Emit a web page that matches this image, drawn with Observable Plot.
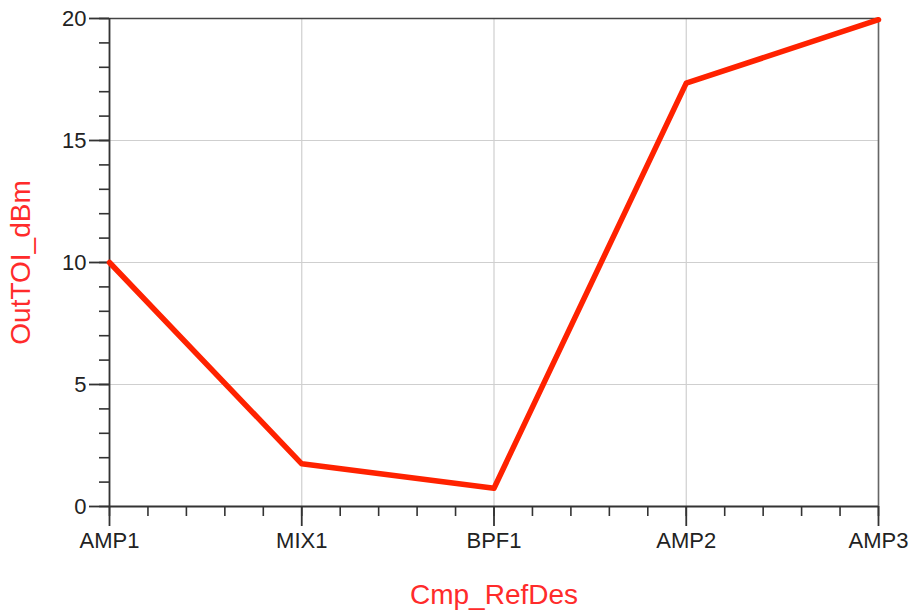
<!DOCTYPE html>
<html>
<head>
<meta charset="utf-8">
<script src="https://cdn.jsdelivr.net/npm/d3@7"></script>
<script src="https://cdn.jsdelivr.net/npm/@observablehq/plot@0.6"></script>
<style>
  html, body { margin: 0; padding: 0; background: #fff; }
  svg { display: block; }
</style>
</head>
<body>
<div id="chart"></div>
<script>
const categories = ["AMP1", "MIX1", "BPF1", "AMP2", "AMP3"];
const outTOI_dBm = [10.0, 1.75, 0.75, 17.35, 19.95];
const yTicks = [0, 5, 10, 15, 20];
const yMinorTicks = d3.range(0, 21, 1);
const xMinorTicks = d3.range(0, 4.001, 0.2);

const data = categories.map((c, i) => ({i, c, v: outTOI_dBm[i]}));

const axisColor = "#333";
const labelColor = "#222";
const titleRed = "#ff2b2b";
const lineRed = "#ff2200";

const chart = Plot.plot({
  width: 911,
  height: 610,
  marginLeft: 109,
  marginRight: 33,
  marginTop: 18,
  marginBottom: 104,
  style: {fontFamily: "'Liberation Sans', Arial, sans-serif", background: "#fff"},
  x: {domain: [0, 4]},
  y: {domain: [0, 20]},
  marks: [
    Plot.gridX(d3.range(categories.length), {stroke: "#cfcfcf", strokeOpacity: 1, strokeWidth: 1.2}),
    Plot.gridY([5, 10, 15], {stroke: "#cfcfcf", strokeOpacity: 1, strokeWidth: 1.2}),
    Plot.ruleY([20], {stroke: "#444", strokeWidth: 1.6}),
    Plot.ruleX([4], {stroke: "#666", strokeWidth: 1.6}),
    Plot.ruleY([0], {stroke: axisColor, strokeWidth: 1.8}),
    Plot.ruleX([0], {stroke: axisColor, strokeWidth: 1.8}),
    // minor ticks
    Plot.axisY(yMinorTicks, {tickSize: 10, tickFormat: () => "", stroke: axisColor, strokeWidth: 1.6, label: null}),
    Plot.axisX(xMinorTicks, {tickSize: 10, tickFormat: () => "", stroke: axisColor, strokeWidth: 1.6, label: null}),
    // major ticks
    Plot.axisY(yTicks, {tickSize: 20, tickPadding: 3, fontSize: 22, fill: labelColor, stroke: axisColor, strokeWidth: 1.8, label: null}),
    Plot.axisX(d3.range(categories.length), {tickSize: 20, tickPadding: 6, fontSize: 22, fill: labelColor, stroke: axisColor, strokeWidth: 1.8, tickFormat: (d) => categories[d], label: null}),
    Plot.line(data, {x: "i", y: "v", stroke: lineRed, strokeWidth: 5.5, strokeLinejoin: "round", strokeLinecap: "round"}),
    Plot.text(["Cmp_RefDes"], {frameAnchor: "bottom", dy: 89, lineAnchor: "middle", textAnchor: "middle", fill: titleRed, fontSize: 28}),
    Plot.text(["OutTOI_dBm"], {frameAnchor: "left", dx: -88, rotate: -90, lineAnchor: "middle", textAnchor: "middle", fill: titleRed, fontSize: 28})
  ]
});
document.getElementById("chart").appendChild(chart);
</script>
</body>
</html>
